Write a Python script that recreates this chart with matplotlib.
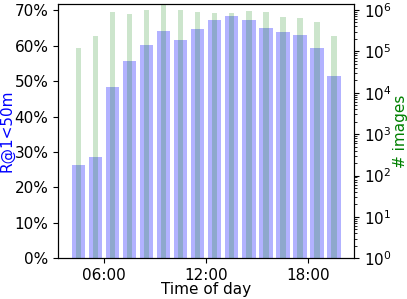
import matplotlib
matplotlib.use('Agg')
import matplotlib.pyplot as plt
import numpy as np
from matplotlib.ticker import PercentFormatter

# hour bins (bar centres at half past the hour)
hours = [4, 5, 6, 7, 8, 9, 10, 11, 12, 13, 14, 15, 16, 17, 18, 19]
recall = [0.264, 0.285, 0.484, 0.556, 0.601, 0.641, 0.616, 0.648, 0.672,
          0.684, 0.672, 0.650, 0.638, 0.631, 0.594, 0.516]
n_images = [1.2e5, 2.4e5, 8.9e5, 8.1e5, 9.8e5, 1.28e6, 1.0e6, 9.1e5, 8.5e5,
            8.5e5, 9.2e5, 8.7e5, 6.7e5, 6.3e5, 5.0e5, 2.3e5]
xtick_pos = [6, 12, 18]
xtick_labels = ['06:00', '12:00', '18:00']

plt.rcParams['font.size'] = 11

fig = plt.figure(figsize=(4.07, 2.99), dpi=100)
ax = fig.add_axes([0.143, 0.136, 0.727, 0.851])
x = np.array(hours) + 0.5

ax.bar(x, recall, width=0.8, color='b', alpha=0.3)
ax.set_ylabel('R@1<50m', color='b')
ax.yaxis.set_label_coords(-0.148, 0.5)
ax.yaxis.set_major_formatter(PercentFormatter(1.0, decimals=0))
ax.set_xticks(xtick_pos)
ax.set_xticklabels(xtick_labels)
ax.set_xlabel('Time of day')
ax.xaxis.set_label_coords(0.5, -0.094)

ax2 = ax.twinx()
ax2.bar(x, n_images, width=0.33, color='g', alpha=0.2)
ax2.set_yscale('log')
ax2.set_ylim(1, 1.4e6)
ax2.set_ylabel('# images', color='g')
ax2.yaxis.set_label_coords(1.13, 0.5)

ax.set_xlim(3.31, 20.69)

fig.savefig('out.png', dpi=100)
